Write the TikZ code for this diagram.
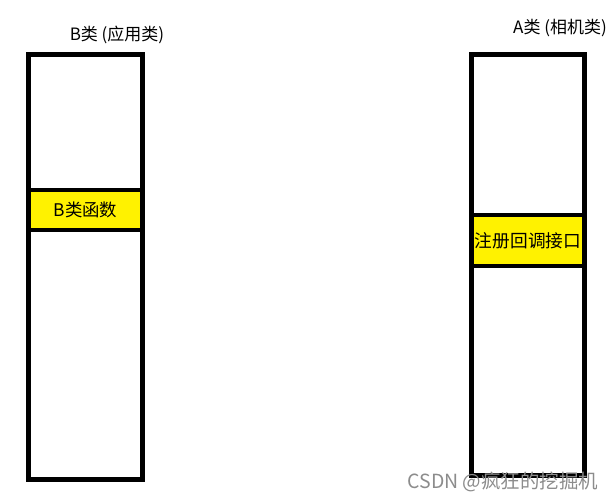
\documentclass[tikz,border=0pt]{standalone}
\usepackage{fontspec}
\setmainfont{Noto Sans CJK SC}
\definecolor{boxyellow}{RGB}{255,242,0}
\begin{document}
\begin{tikzpicture}[x=1pt,y=-1pt]
\useasboundingbox (0,0) rectangle (614,501);
\node[draw, line width=5pt, inner sep=0pt, minimum width=114pt, minimum height=425pt] (bcls) at (85.5,267){};
\node[draw, line width=4.5pt, fill=boxyellow, inner sep=0pt, minimum width=114pt, minimum height=40pt, font=\fontsize{17.4}{19}\selectfont] (bfunc) at (85.5,210){B类函数};
\node[font=\fontsize{17}{19}\selectfont] (blabel) at (117,35){B类 (应用类)};
\node[draw, line width=5pt, inner sep=0pt, minimum width=113pt, minimum height=421pt] (acls) at (528,265){};
\node[draw, line width=4.5pt, fill=boxyellow, inner sep=0pt, minimum width=113pt, minimum height=51pt, font=\fontsize{17.7}{19}\selectfont] (areg) at (528,240.5){注册回调接口};
\node[font=\fontsize{17}{19}\selectfont] (alabel) at (560,28){A类 (相机类)};
\node[text=black!45, font=\fontsize{19.5}{21}\selectfont] (mark) at (503,482){CSDN @疯狂的挖掘机};
\end{tikzpicture}
\end{document}
